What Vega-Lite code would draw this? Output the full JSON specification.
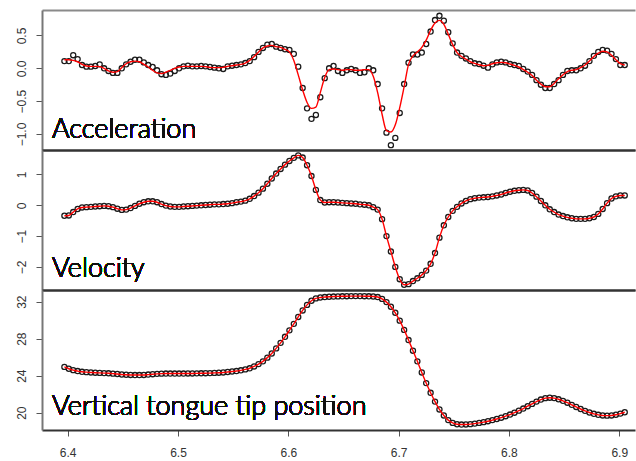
{
"$schema": "https://vega.github.io/schema/vega-lite/v6.json",
"padding": {"left": 14, "top": 10, "right": 1, "bottom": 0},
"background": "white",
"spacing": 0,
"bounds": "flush",
"config": {
  "view": {"stroke": null},
  "axis": {"grid": false, "labelFont": "Liberation Sans", "labelFontSize": 12, "labelColor": "#333", "tickColor": "#555", "domainColor": "#777"}
},
"datasets": {"d": [
{"t":6.397,"a":0.11,"af":0.13,"v":-0.34,"p":24.95},
{"t":6.401,"a":0.11,"af":0.13,"v":-0.33,"p":24.75},
{"t":6.405,"a":0.20,"af":0.12,"v":-0.22,"p":24.6},
{"t":6.409,"a":0.14,"af":0.10,"v":-0.12,"p":24.5},
{"t":6.413,"a":0.05,"af":0.06,"v":-0.07,"p":24.42},
{"t":6.417,"a":0.025,"af":0.035,"v":-0.06,"p":24.38},
{"t":6.421,"a":0.025,"af":0.03,"v":-0.05,"p":24.35},
{"t":6.425,"a":0.035,"af":0.03,"v":-0.04,"p":24.32},
{"t":6.429,"a":0.06,"af":0.025,"v":-0.03,"p":24.3},
{"t":6.433,"a":0.0,"af":0.0,"v":-0.02,"p":24.28},
{"t":6.437,"a":-0.04,"af":-0.04,"v":-0.03,"p":24.26},
{"t":6.441,"a":-0.07,"af":-0.06,"v":-0.06,"p":24.22},
{"t":6.445,"a":-0.07,"af":-0.05,"v":-0.11,"p":24.18},
{"t":6.449,"a":0.0,"af":0.01,"v":-0.15,"p":24.13},
{"t":6.453,"a":0.06,"af":0.07,"v":-0.14,"p":24.1},
{"t":6.457,"a":0.10,"af":0.10,"v":-0.09,"p":24.08},
{"t":6.461,"a":0.13,"af":0.11,"v":-0.02,"p":24.07},
{"t":6.465,"a":0.13,"af":0.10,"v":0.05,"p":24.07},
{"t":6.469,"a":0.09,"af":0.06,"v":0.10,"p":24.08},
{"t":6.473,"a":0.05,"af":0.02,"v":0.13,"p":24.12},
{"t":6.477,"a":0.02,"af":-0.03,"v":0.13,"p":24.16},
{"t":6.481,"a":-0.03,"af":-0.07,"v":0.10,"p":24.2},
{"t":6.485,"a":-0.09,"af":-0.08,"v":0.04,"p":24.22},
{"t":6.489,"a":-0.10,"af":-0.06,"v":-0.01,"p":24.23},
{"t":6.493,"a":-0.08,"af":-0.03,"v":-0.04,"p":24.23},
{"t":6.497,"a":-0.04,"af":0.0,"v":-0.05,"p":24.23},
{"t":6.501,"a":0.0,"af":0.02,"v":-0.05,"p":24.23},
{"t":6.505,"a":0.03,"af":0.03,"v":-0.04,"p":24.23},
{"t":6.509,"a":0.04,"af":0.03,"v":-0.03,"p":24.24},
{"t":6.513,"a":0.03,"af":0.03,"v":-0.02,"p":24.24},
{"t":6.517,"a":0.03,"af":0.03,"v":-0.01,"p":24.25},
{"t":6.521,"a":0.035,"af":0.03,"v":0.0,"p":24.26},
{"t":6.525,"a":0.03,"af":0.025,"v":0.01,"p":24.27},
{"t":6.529,"a":0.02,"af":0.015,"v":0.02,"p":24.28},
{"t":6.533,"a":0.01,"af":0.01,"v":0.03,"p":24.3},
{"t":6.537,"a":0.0,"af":0.01,"v":0.03,"p":24.32},
{"t":6.541,"a":-0.01,"af":0.015,"v":0.04,"p":24.35},
{"t":6.545,"a":0.03,"af":0.03,"v":0.05,"p":24.4},
{"t":6.549,"a":0.04,"af":0.04,"v":0.07,"p":24.45},
{"t":6.553,"a":0.05,"af":0.05,"v":0.10,"p":24.5},
{"t":6.557,"a":0.06,"af":0.06,"v":0.12,"p":24.58},
{"t":6.561,"a":0.08,"af":0.08,"v":0.15,"p":24.68},
{"t":6.565,"a":0.11,"af":0.12,"v":0.21,"p":24.8},
{"t":6.569,"a":0.17,"af":0.18,"v":0.30,"p":25.0},
{"t":6.573,"a":0.25,"af":0.25,"v":0.41,"p":25.25},
{"t":6.577,"a":0.31,"af":0.31,"v":0.54,"p":25.55},
{"t":6.581,"a":0.36,"af":0.34,"v":0.70,"p":25.95},
{"t":6.585,"a":0.37,"af":0.35,"v":0.87,"p":26.4},
{"t":6.589,"a":0.33,"af":0.33,"v":1.03,"p":26.95},
{"t":6.593,"a":0.31,"af":0.32,"v":1.18,"p":27.55},
{"t":6.597,"a":0.29,"af":0.29,"v":1.32,"p":28.2},
{"t":6.601,"a":0.28,"af":0.25,"v":1.44,"p":28.9},
{"t":6.605,"a":0.22,"af":0.12,"v":1.54,"p":29.6},
{"t":6.609,"a":0.025,"af":-0.10,"v":1.62,"p":30.35},
{"t":6.613,"a":-0.30,"af":-0.33,"v":1.55,"p":31.05},
{"t":6.617,"a":-0.61,"af":-0.52,"v":1.30,"p":31.65},
{"t":6.621,"a":-0.77,"af":-0.61,"v":0.95,"p":32.1},
{"t":6.625,"a":-0.71,"af":-0.59,"v":0.50,"p":32.35},
{"t":6.629,"a":-0.44,"af":-0.37,"v":0.17,"p":32.45},
{"t":6.633,"a":-0.15,"af":-0.14,"v":0.09,"p":32.5},
{"t":6.637,"a":0.0,"af":-0.02,"v":0.10,"p":32.53},
{"t":6.641,"a":0.035,"af":-0.01,"v":0.10,"p":32.55},
{"t":6.645,"a":-0.04,"af":-0.02,"v":0.09,"p":32.57},
{"t":6.649,"a":-0.07,"af":-0.03,"v":0.08,"p":32.58},
{"t":6.653,"a":-0.03,"af":-0.02,"v":0.07,"p":32.59},
{"t":6.657,"a":-0.01,"af":-0.02,"v":0.06,"p":32.6},
{"t":6.661,"a":-0.03,"af":-0.03,"v":0.05,"p":32.6},
{"t":6.665,"a":-0.07,"af":-0.03,"v":0.03,"p":32.6},
{"t":6.669,"a":-0.06,"af":-0.02,"v":0.02,"p":32.59},
{"t":6.673,"a":0.0,"af":-0.02,"v":0.0,"p":32.58},
{"t":6.677,"a":-0.03,"af":-0.12,"v":-0.06,"p":32.56},
{"t":6.681,"a":-0.24,"af":-0.37,"v":-0.14,"p":32.5},
{"t":6.685,"a":-0.61,"af":-0.70,"v":-0.45,"p":32.3},
{"t":6.689,"a":-0.98,"af":-0.95,"v":-1.00,"p":31.95},
{"t":6.693,"a":-1.17,"af":-0.97,"v":-1.50,"p":31.45},
{"t":6.697,"a":-1.06,"af":-0.86,"v":-2.00,"p":30.8},
{"t":6.701,"a":-0.68,"af":-0.60,"v":-2.40,"p":29.95},
{"t":6.705,"a":-0.24,"af":-0.28,"v":-2.58,"p":28.95},
{"t":6.709,"a":0.085,"af":0.06,"v":-2.56,"p":27.85},
{"t":6.713,"a":0.21,"af":0.19,"v":-2.46,"p":26.7},
{"t":6.717,"a":0.21,"af":0.25,"v":-2.37,"p":25.55},
{"t":6.721,"a":0.24,"af":0.32,"v":-2.26,"p":24.35},
{"t":6.725,"a":0.37,"af":0.43,"v":-2.12,"p":23.2},
{"t":6.729,"a":0.56,"af":0.58,"v":-1.90,"p":22.15},
{"t":6.733,"a":0.735,"af":0.69,"v":-1.55,"p":21.2},
{"t":6.737,"a":0.80,"af":0.73,"v":-1.05,"p":20.35},
{"t":6.741,"a":0.725,"af":0.67,"v":-0.65,"p":19.7},
{"t":6.745,"a":0.55,"af":0.52,"v":-0.38,"p":19.2},
{"t":6.749,"a":0.38,"af":0.36,"v":-0.18,"p":18.9},
{"t":6.753,"a":0.24,"af":0.24,"v":-0.05,"p":18.75},
{"t":6.757,"a":0.19,"af":0.18,"v":0.06,"p":18.72},
{"t":6.761,"a":0.15,"af":0.14,"v":0.14,"p":18.73},
{"t":6.765,"a":0.11,"af":0.10,"v":0.20,"p":18.76},
{"t":6.769,"a":0.076,"af":0.075,"v":0.23,"p":18.82},
{"t":6.773,"a":0.065,"af":0.055,"v":0.25,"p":18.9},
{"t":6.777,"a":0.04,"af":0.04,"v":0.26,"p":18.98},
{"t":6.781,"a":0.01,"af":0.045,"v":0.27,"p":19.08},
{"t":6.785,"a":0.06,"af":0.07,"v":0.29,"p":19.2},
{"t":6.789,"a":0.09,"af":0.085,"v":0.32,"p":19.32},
{"t":6.793,"a":0.10,"af":0.09,"v":0.35,"p":19.46},
{"t":6.797,"a":0.09,"af":0.085,"v":0.40,"p":19.62},
{"t":6.801,"a":0.065,"af":0.065,"v":0.44,"p":19.8},
{"t":6.805,"a":0.05,"af":0.045,"v":0.47,"p":20.0},
{"t":6.809,"a":0.035,"af":0.02,"v":0.49,"p":20.22},
{"t":6.813,"a":-0.01,"af":-0.02,"v":0.50,"p":20.45},
{"t":6.817,"a":-0.05,"af":-0.06,"v":0.48,"p":20.7},
{"t":6.821,"a":-0.10,"af":-0.11,"v":0.40,"p":20.95},
{"t":6.825,"a":-0.18,"af":-0.18,"v":0.28,"p":21.2},
{"t":6.829,"a":-0.25,"af":-0.24,"v":0.14,"p":21.42},
{"t":6.833,"a":-0.30,"af":-0.28,"v":0.0,"p":21.57},
{"t":6.837,"a":-0.30,"af":-0.28,"v":-0.13,"p":21.62},
{"t":6.841,"a":-0.24,"af":-0.23,"v":-0.22,"p":21.58},
{"t":6.845,"a":-0.18,"af":-0.16,"v":-0.30,"p":21.45},
{"t":6.849,"a":-0.10,"af":-0.10,"v":-0.35,"p":21.28},
{"t":6.853,"a":-0.04,"af":-0.05,"v":-0.39,"p":21.08},
{"t":6.857,"a":-0.03,"af":-0.03,"v":-0.42,"p":20.85},
{"t":6.861,"a":-0.03,"af":-0.02,"v":-0.44,"p":20.62},
{"t":6.865,"a":0.0,"af":0.01,"v":-0.44,"p":20.4},
{"t":6.869,"a":0.04,"af":0.05,"v":-0.44,"p":20.2},
{"t":6.873,"a":0.11,"af":0.11,"v":-0.42,"p":20.02},
{"t":6.877,"a":0.19,"af":0.18,"v":-0.38,"p":19.88},
{"t":6.881,"a":0.25,"af":0.23,"v":-0.28,"p":19.77},
{"t":6.885,"a":0.28,"af":0.26,"v":-0.12,"p":19.7},
{"t":6.889,"a":0.27,"af":0.25,"v":0.07,"p":19.68},
{"t":6.893,"a":0.22,"af":0.20,"v":0.22,"p":19.7},
{"t":6.897,"a":0.14,"af":0.13,"v":0.29,"p":19.78},
{"t":6.901,"a":0.05,"af":0.07,"v":0.32,"p":19.9},
{"t":6.905,"a":0.05,"af":0.05,"v":0.32,"p":20.05}
]},
"vconcat": [
{
  "width": 593, "height": 140,
  "data": {"name": "d"},
  "resolve": {"axis": {"x": "independent", "y": "shared"}},
  "layer": [
    {"mark": {"type": "point", "shape": "circle", "filled": false, "color": "#1a1a1a", "strokeWidth": 1.3, "size": 26, "opacity": 1},
     "encoding": {
       "x": {"field": "t", "type": "quantitative", "scale": {"domain": [6.3767, 6.9143], "nice": false, "zero": false},
             "axis": {"orient": "bottom", "ticks": false, "labels": false, "domainColor": "#333", "domainWidth": 2, "title": null}},
       "y": {"field": "a", "type": "quantitative", "scale": {"domain": [-1.244, 0.888], "nice": false, "zero": false},
             "axis": {"orient": "left", "values": [-1, -0.5, 0, 0.5], "format": ".1f", "labelAngle": 270, "title": null, "tickSize": 6, "labelPadding": 8, "domainWidth": 2}}
     }},
    {"mark": {"type": "line", "color": "#ff0000", "strokeWidth": 1.4, "interpolate": "monotone"},
     "encoding": {
       "x": {"field": "t", "type": "quantitative", "axis": {"orient": "top", "ticks": false, "labels": false, "domainColor": "#8a8a8a", "domainWidth": 2, "title": null}},
       "y": {"field": "af", "type": "quantitative"}
     }},
    {"mark": {"type": "text", "text": "Acceleration", "font": "Lato", "fontWeight": 300, "fontSize": 27, "align": "left", "baseline": "alphabetic", "color": "#111"},
     "encoding": {
       "x": {"datum": 6.3858, "type": "quantitative", "axis": null},
       "y": {"datum": -1.061, "type": "quantitative"}
     }}
  ]
},
{
  "width": 593, "height": 140,
  "data": {"name": "d"},
  "resolve": {"axis": {"x": "independent", "y": "shared"}},
  "layer": [
    {"mark": {"type": "point", "shape": "circle", "filled": false, "color": "#1a1a1a", "strokeWidth": 1.3, "size": 26, "opacity": 1},
     "encoding": {
       "x": {"field": "t", "type": "quantitative", "scale": {"domain": [6.3767, 6.9143], "nice": false, "zero": false},
             "axis": {"orient": "bottom", "ticks": false, "labels": false, "domainColor": "#333", "domainWidth": 2, "title": null}},
       "y": {"field": "v", "type": "quantitative", "scale": {"domain": [-2.75, 1.795], "nice": false, "zero": false},
             "axis": {"orient": "left", "values": [-2, -1, 0, 1], "format": "d", "labelAngle": 270, "title": null, "tickSize": 6, "labelPadding": 8, "domainWidth": 2}}
     }},
    {"mark": {"type": "line", "color": "#ff0000", "strokeWidth": 1.4, "interpolate": "monotone"},
     "encoding": {
       "x": {"field": "t", "type": "quantitative", "axis": {"orient": "top", "ticks": false, "labels": false, "domainColor": "#333", "domainWidth": 2, "title": null}},
       "y": {"field": "v", "type": "quantitative"}
     }},
    {"mark": {"type": "text", "text": "Velocity", "font": "Lato", "fontWeight": 300, "fontSize": 27, "align": "left", "baseline": "alphabetic", "color": "#111"},
     "encoding": {
       "x": {"datum": 6.3858, "type": "quantitative", "axis": null},
       "y": {"datum": -2.32, "type": "quantitative"}
     }}
  ]
},
{
  "width": 593, "height": 140,
  "data": {"name": "d"},
  "resolve": {"axis": {"x": "independent", "y": "shared"}},
  "layer": [
    {"mark": {"type": "point", "shape": "circle", "filled": false, "color": "#1a1a1a", "strokeWidth": 1.3, "size": 26, "opacity": 1},
     "encoding": {
       "x": {"field": "t", "type": "quantitative", "scale": {"domain": [6.3767, 6.9143], "nice": false, "zero": false},
             "axis": {"orient": "bottom", "values": [6.4, 6.5, 6.6, 6.7, 6.8, 6.9], "format": ".1f", "tickSize": 6, "labelPadding": 11, "labelFontSize": 12, "domainColor": "#333", "domainWidth": 2, "title": null}},
       "y": {"field": "p", "type": "quantitative", "scale": {"domain": [18.13, 33.26], "nice": false, "zero": false},
             "axis": {"orient": "left", "values": [20, 22, 24, 26, 28, 30, 32], "labelExpr": "datum.value % 4 == 0 ? datum.label : ''", "labelAngle": 270, "title": null, "tickSize": 6, "labelPadding": 8, "domainWidth": 2}}
     }},
    {"mark": {"type": "line", "color": "#ff0000", "strokeWidth": 1.4, "interpolate": "monotone"},
     "encoding": {
       "x": {"field": "t", "type": "quantitative", "axis": {"orient": "top", "ticks": false, "labels": false, "domainColor": "#333", "domainWidth": 2, "title": null}},
       "y": {"field": "p", "type": "quantitative"}
     }},
    {"mark": {"type": "text", "text": "Vertical tongue tip position", "font": "Lato", "fontWeight": 300, "fontSize": 27, "align": "left", "baseline": "alphabetic", "color": "#111"},
     "encoding": {
       "x": {"datum": 6.3858, "type": "quantitative", "axis": null},
       "y": {"datum": 19.75, "type": "quantitative"}
     }}
  ]
}
]
}
